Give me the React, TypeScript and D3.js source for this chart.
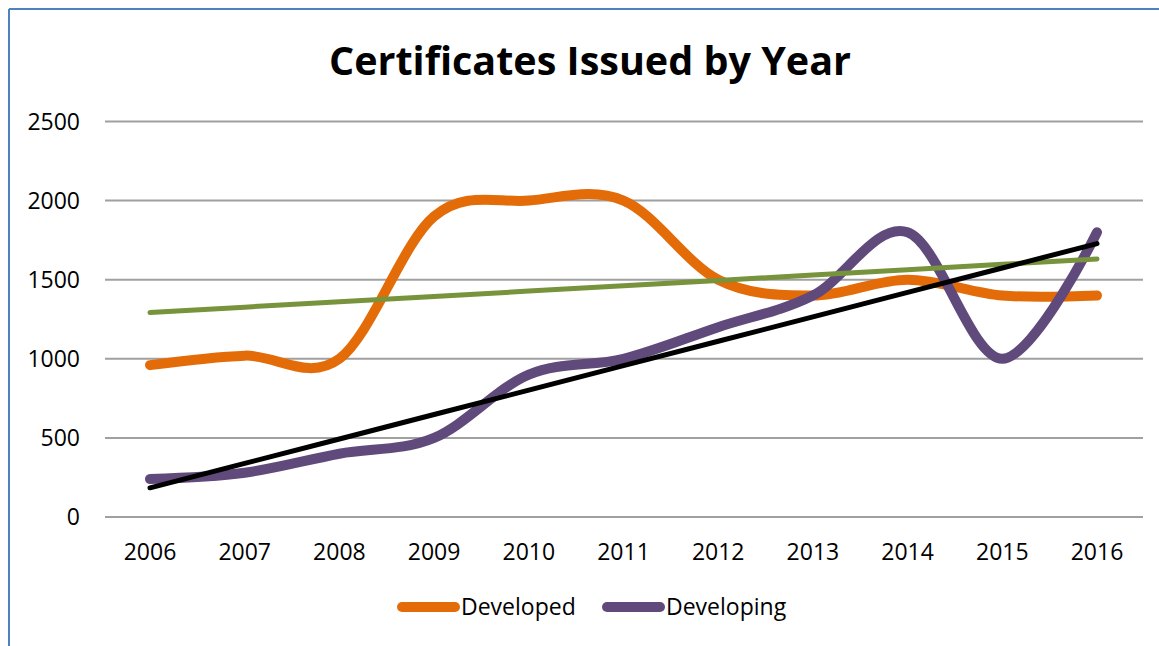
import React from "react";
import * as d3 from "d3";

const years = ["2006", "2007", "2008", "2009", "2010", "2011", "2012", "2013", "2014", "2015", "2016"];
const developed = [960, 1020, 1000, 1900, 2000, 2000, 1500, 1400, 1500, 1400, 1400];
const developing = [240, 280, 400, 500, 900, 1000, 1200, 1400, 1800, 1000, 1800];
const yTicks = [0, 500, 1000, 1500, 2000, 2500];
const title = "Certificates Issued by Year";
const seriesNames = ["Developed", "Developing"];

const W = 1159;
const H = 646;
const FONT = "'Open Sans', 'Liberation Sans', sans-serif";

function linReg(vals: number[]) {
  const xs = vals.map((_, i) => i);
  const mx = d3.mean(xs) as number;
  const my = d3.mean(vals) as number;
  let num = 0;
  let den = 0;
  xs.forEach((x, i) => {
    num += (x - mx) * (vals[i] - my);
    den += (x - mx) * (x - mx);
  });
  const slope = num / den;
  return xs.map((x) => my + slope * (x - mx));
}

export default function App() {
  const x = d3.scalePoint<string>().domain(years).range([150, 1097]);
  const y = d3.scaleLinear().domain([0, 2500]).range([517, 121.5]);

  const smooth = d3
    .line<number>()
    .x((_, i) => x(years[i]) as number)
    .y((d) => y(d))
    .curve(d3.curveCatmullRom.alpha(0));
  const straight = d3
    .line<number>()
    .x((_, i) => x(years[i]) as number)
    .y((d) => y(d));

  const trendDeveloped = linReg(developed);
  const trendDeveloping = linReg(developing);

  return (
    <svg
      width={W}
      height={H}
      style={{ position: "absolute", left: 0, top: 0, background: "#fff" }}
      fontFamily={FONT}
    >
      <rect x={0} y={0} width={W} height={H} fill="#fff" />
      <line x1={9} y1={9} x2={W} y2={9} stroke="#4f81bd" strokeWidth={2} />
      <line x1={9} y1={9} x2={9} y2={H} stroke="#4f81bd" strokeWidth={2} />

      <text x={590} y={75} textAnchor="middle" fontSize={39.5} fontWeight="bold" fill="#000">
        {title}
      </text>

      {yTicks.map((t) => (
        <g key={t}>
          <line x1={105} x2={1143} y1={y(t)} y2={y(t)} stroke="#a0a0a0" strokeWidth={2} />
          <text x={80} y={y(t) + 8} textAnchor="end" fontSize={23} fill="#000">
            {t}
          </text>
        </g>
      ))}

      {years.map((yr) => (
        <text key={yr} x={x(yr) as number} y={560} textAnchor="middle" fontSize={23} fill="#000">
          {yr}
        </text>
      ))}

      <path d={smooth(developed) || ""} fill="none" stroke="#e36c09" strokeWidth={10} strokeLinecap="round" strokeLinejoin="round" />
      <path d={smooth(developing) || ""} fill="none" stroke="#604a7b" strokeWidth={10} strokeLinecap="round" strokeLinejoin="round" />
      <path d={straight(trendDeveloped) || ""} fill="none" stroke="#77933c" strokeWidth={5} strokeLinecap="round" />
      <path d={straight(trendDeveloping) || ""} fill="none" stroke="#000" strokeWidth={5} strokeLinecap="round" />

      <line x1={402} x2={455} y1={607} y2={607} stroke="#e36c09" strokeWidth={10} strokeLinecap="round" />
      <text x={461} y={615} fontSize={23} fill="#000">{seriesNames[0]}</text>
      <line x1={607} x2={660} y1={607} y2={607} stroke="#604a7b" strokeWidth={10} strokeLinecap="round" />
      <text x={666} y={615} fontSize={23} fill="#000">{seriesNames[1]}</text>
    </svg>
  );
}
